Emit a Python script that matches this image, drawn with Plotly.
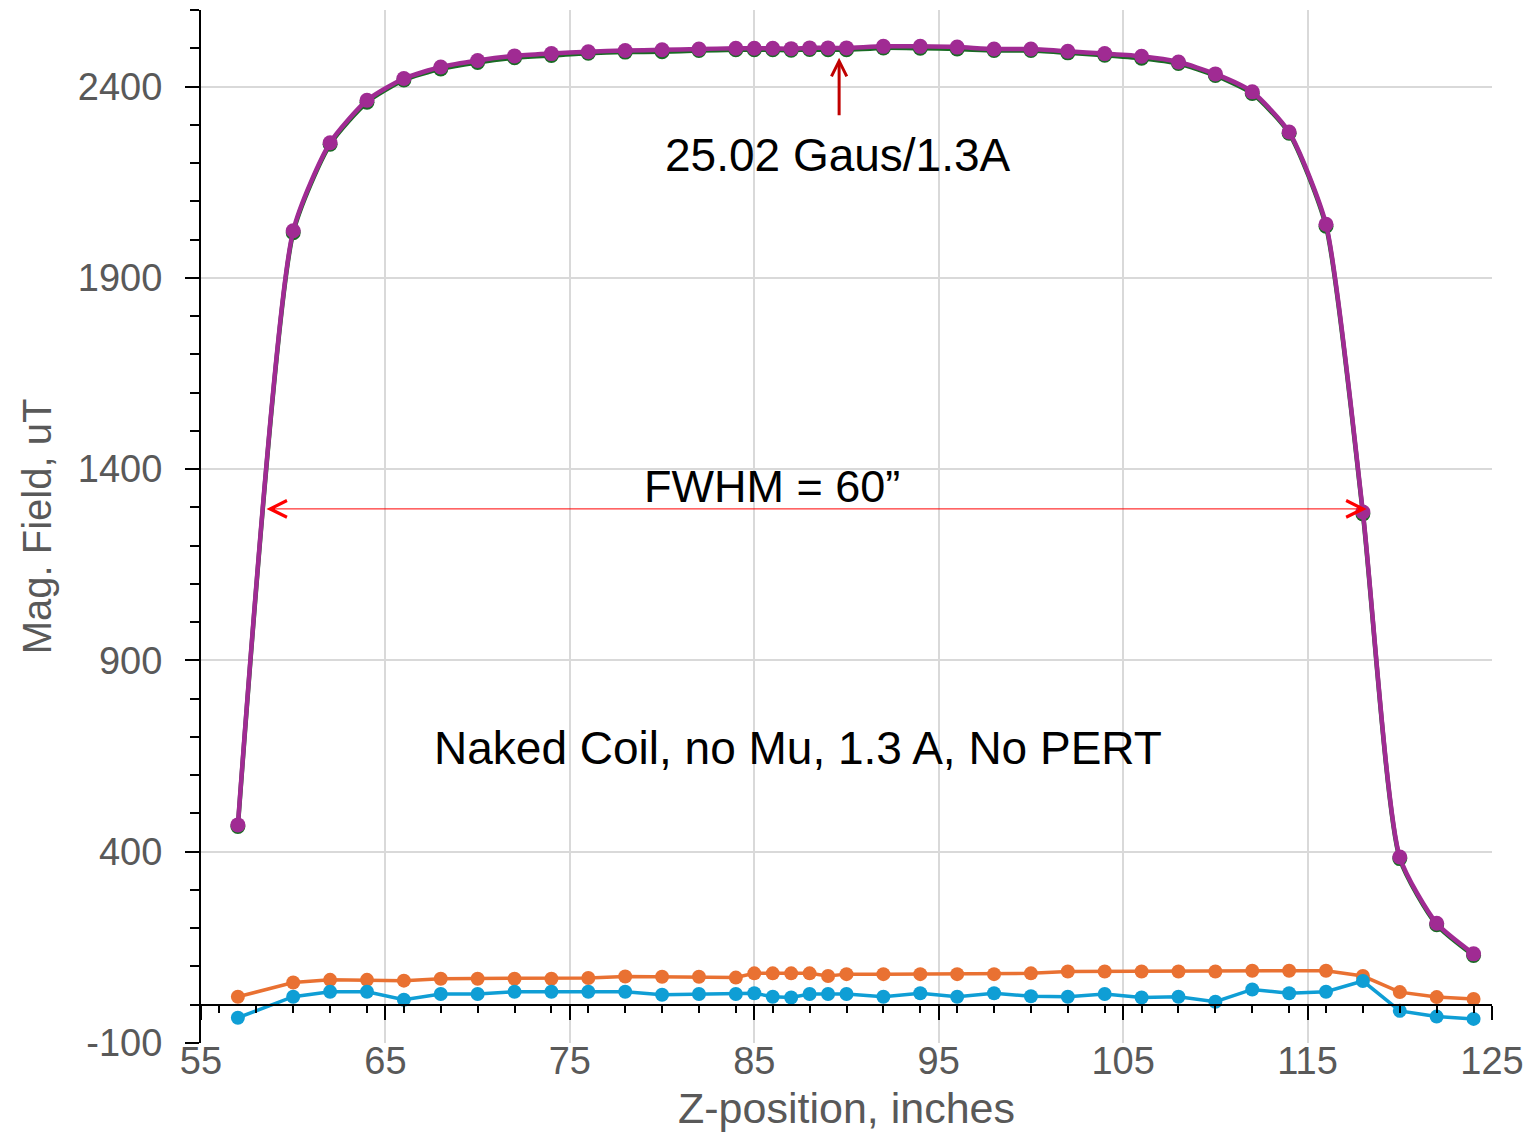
import plotly.graph_objects as go

# Z-position (inches)
z_pos = [57, 60, 62, 64, 66, 68, 70, 72, 74, 76, 78, 80, 82, 84, 85, 86, 87, 88, 89, 90,
         92, 94, 96, 98, 100, 102, 104, 106, 108, 110, 112, 114, 116, 118, 120, 122, 124]

# Field components (uT)
bx_orange = [21, 58, 65, 65, 63, 68, 68, 68, 68, 70, 74, 73, 73, 71, 82, 82, 82, 82, 75, 80,
             80, 80, 80, 80, 82, 87, 87, 87, 87, 87, 89, 89, 89, 75, 33, 20, 15]
by_blue = [-34, 21, 34, 34, 13, 28, 28, 34, 34, 34, 34, 26, 28, 28, 30, 21, 19, 28, 28, 28,
           21, 30, 21, 30, 22, 21, 28, 19, 21, 8, 40, 30, 34, 62, -16, -31, -37]
bz_green = [466, 2018, 2249, 2359, 2417, 2446, 2463, 2475, 2481, 2487, 2490, 2491, 2494, 2496,
            2496, 2496, 2495, 2497, 2496, 2496, 2501, 2500, 2498, 2494, 2494, 2488, 2482, 2474,
            2460, 2429, 2382, 2278, 2035, 1283, 382, 209, 129]
btot_purple = [470, 2023, 2253, 2364, 2421, 2451, 2468, 2480, 2486, 2491, 2494, 2496, 2498, 2500,
               2500, 2500, 2499, 2501, 2501, 2501, 2505, 2505, 2503, 2498, 2498, 2492, 2486, 2479,
               2464, 2433, 2386, 2281, 2040, 1288, 386, 213, 133]

x_range = [55, 125]
y_range = [-100, 2600]
y_tick_vals = [-100, 400, 900, 1400, 1900, 2400]
y_tick_text = ["-100", "400", "900", "1400", "1900", "2400"]

GREY = "#595959"
GRID = "#D9D9D9"
FONT = "Liberation Sans"

fig = go.Figure()

fig.add_trace(go.Scatter(x=z_pos, y=bz_green, mode="lines+markers",
                         line=dict(color="#196B24", width=4.5, shape="spline", smoothing=0.6),
                         marker=dict(color="#196B24", size=15), name="Bz"))
fig.add_trace(go.Scatter(x=z_pos, y=btot_purple, mode="lines+markers",
                         line=dict(color="#A02B93", width=4.5, shape="spline", smoothing=0.6),
                         marker=dict(color="#A02B93", size=15), name="|B|"))
fig.add_trace(go.Scatter(x=z_pos, y=bx_orange, mode="lines+markers", xaxis="x2",
                         line=dict(color="#E97132", width=3.5),
                         marker=dict(color="#E97132", size=14), name="Bx"))
fig.add_trace(go.Scatter(x=z_pos, y=by_blue, mode="lines+markers", xaxis="x2",
                         line=dict(color="#0F9ED5", width=3.5),
                         marker=dict(color="#0F9ED5", size=14), name="By"))

fig.update_layout(
    width=1532, height=1132,
    margin=dict(l=201, r=40, t=10, b=89),
    paper_bgcolor="white", plot_bgcolor="white",
    showlegend=False,
    font=dict(family=FONT, color=GREY),
    xaxis=dict(
        range=x_range, tick0=55, dtick=10, showgrid=True, gridcolor=GRID, gridwidth=1.5,
        zeroline=False, showline=False, ticks="", automargin=False,
        tickfont=dict(family=FONT, size=38, color=GREY),
        ticklabelstandoff=-8,
        title=dict(text="Z-position, inches", font=dict(family=FONT, size=43, color=GREY), standoff=19),
    ),
    xaxis2=dict(
        range=x_range, overlaying="x", anchor="free", position=100 / 2700, side="bottom",
        tick0=55, dtick=10, showgrid=False, zeroline=False, automargin=False,
        showline=True, linecolor="black", linewidth=2,
        ticks="outside", ticklen=14, tickwidth=2, tickcolor="black",
        showticklabels=False,
        minor=dict(dtick=2, ticks="outside", ticklen=7, tickwidth=1.5, tickcolor="black", showgrid=False),
    ),
    yaxis=dict(
        range=y_range, tickmode="array", tickvals=y_tick_vals, ticktext=y_tick_text,
        showgrid=True, gridcolor=GRID, gridwidth=1.5, automargin=False,
        zeroline=False, showline=True, linecolor="black", linewidth=2,
        ticks="outside", ticklen=14, tickwidth=2, tickcolor="black",
        minor=dict(tickmode="linear", tick0=-100, dtick=100, ticks="outside", ticklen=9,
                   tickwidth=1.5, tickcolor="black", showgrid=False),
        tickfont=dict(family=FONT, size=38, color=GREY),
        ticklabelstandoff=15,
        title=dict(text="Mag. Field, uT", font=dict(family=FONT, size=40, color=GREY), standoff=14),
    ),
)

annotations = [
    dict(x=89.54, y=2222, text="25.02 Gaus/1.3A", showarrow=False,
         font=dict(family=FONT, size=46, color="black")),
    dict(x=89.6, y=2475, ax=89.6, ay=2321, axref="x", ayref="y", text="",
         showarrow=True, arrowhead=5, arrowsize=1.0, arrowwidth=3, arrowcolor="#C00000"),
    dict(x=85.96, y=1354, text="FWHM = 60\u201d", showarrow=False,
         font=dict(family=FONT, size=45, color="black")),
    dict(x=118.2, y=1296, ax=58.47, ay=1296, axref="x", ayref="y", text="",
         showarrow=True, arrowside="end+start", arrowhead=5, startarrowhead=5,
         arrowsize=3.3, startarrowsize=3.3, arrowwidth=1, arrowcolor="#FF0000"),
    dict(x=87.37, y=671, text="Naked Coil, no Mu, 1.3 A, No PERT", showarrow=False,
         font=dict(family=FONT, size=46, color="black")),
]
fig.update_layout(annotations=annotations)

fig.write_html("out.html", config={"displayModeBar": False},
               post_script="document.body.style.margin='0';document.body.style.overflow='hidden';")
